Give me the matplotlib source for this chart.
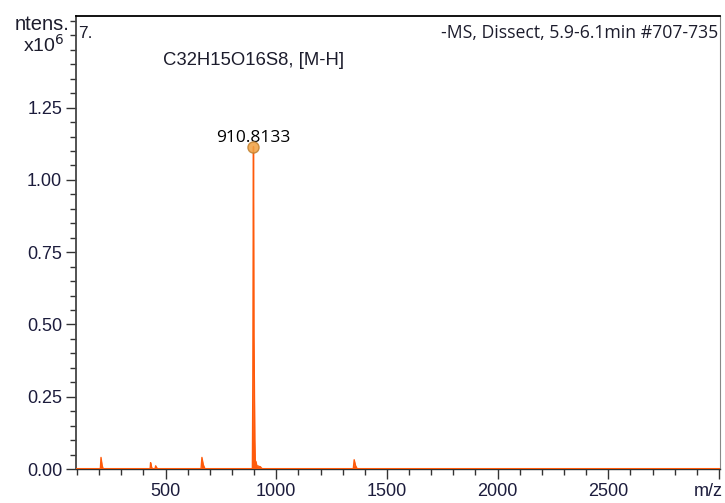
import matplotlib
matplotlib.use("Agg")
import matplotlib.pyplot as plt
from matplotlib.ticker import MultipleLocator, FixedLocator

# Spectrum profile (m/z, intensity x10^6)
mz = [95, 205, 208, 213, 218, 430, 432, 436, 440, 452, 455, 460, 465,
      660, 664, 670, 678, 892, 894, 896, 897, 899, 901, 903, 905, 908,
      912, 916, 920, 924, 928, 932, 938, 1348, 1352, 1358, 1366, 3005]
intensity = [0.0, 0.0, 0.040, 0.012, 0.0, 0.0, 0.022, 0.008, 0.0, 0.0, 0.011, 0.004, 0.0,
             0.0, 0.040, 0.015, 0.0, 0.0, 0.30, 0.90, 1.115, 0.46, 0.30, 0.10, 0.028, 0.026,
             0.012, 0.010, 0.010, 0.008, 0.008, 0.004, 0.0, 0.0, 0.032, 0.012, 0.0, 0.0]

peak_mz = 897
peak_int = 1.115
peak_label = "910.8133"

y_major = [0.00, 0.25, 0.50, 0.75, 1.00, 1.25]
y_labels = ["0.00", "0.25", "0.50", "0.75", "1.00", "1.25"]
x_major = [500, 1000, 1500, 2000, 2500, 3000]
x_labels = ["500", "1000", "1500", "2000", "2500", ""]
x_unit = "m/z"

orange = "#ff5a0a"
tickcol = "#1c1c3c"

fig = plt.figure(figsize=(7.25, 5.03), dpi=100)
ax = fig.add_axes([76/725, 34/503, 644/725, 453/503])

ax.fill_between(mz, intensity, 0, color=orange, linewidth=0)
ax.plot(mz, intensity, color=orange, linewidth=1.0)
ax.axhline(0.0, color=orange, linewidth=2.2, zorder=3)
ax.plot([peak_mz], [peak_int], 'o', ms=8, mfc="#f0a040", mec="#c08030",
        alpha=0.85, zorder=5)
ax.text(peak_mz, peak_int + 0.003, peak_label, ha="center", va="bottom",
        fontsize=12.5, family="Open Sans", color="black")

ax.set_xlim(95, 3005)
ax.set_ylim(0, 1.567)

ax.yaxis.set_major_locator(FixedLocator(y_major))
ax.set_yticklabels(y_labels)
ax.yaxis.set_minor_locator(MultipleLocator(0.05))
ax.xaxis.set_major_locator(FixedLocator(x_major))
ax.set_xticklabels(x_labels)
ax.xaxis.set_minor_locator(MultipleLocator(100))

ax.tick_params(axis="both", which="major", direction="out", length=7, width=1,
               color="#333333", labelsize=13, labelcolor=tickcol, pad=3)
ax.tick_params(axis="both", which="minor", direction="out", length=4, width=1,
               color="#333333")
for lab in ax.get_xticklabels() + ax.get_yticklabels():
    lab.set_family("Liberation Sans")

ax.spines["top"].set_color("black")
ax.spines["top"].set_linewidth(1.3)
ax.spines["left"].set_color("#444444")
ax.spines["left"].set_linewidth(1.3)
ax.spines["right"].set_color("#888888")
ax.spines["right"].set_linewidth(0.8)
ax.spines["bottom"].set_color("#333333")
ax.spines["bottom"].set_linewidth(1.0)

fig.text(708/725, 1 - 491/503, x_unit, fontsize=13, family="Liberation Sans",
         ha="center", va="center", color=tickcol)

ax.text(0.004, 0.962, "7.", transform=ax.transAxes, fontsize=12.5,
        family="Liberation Sans", ha="left", va="center", color="#1c1c2c")
ax.text(0.997, 0.962, "-MS, Dissect, 5.9-6.1min #707-735", transform=ax.transAxes,
        fontsize=12.7, family="Open Sans", ha="right", va="center", color="#1c1c2c")
ax.text(0.276, 0.902, "C32H15O16S8, [M-H]", transform=ax.transAxes,
        fontsize=13.3, family="Liberation Sans", ha="center", va="center", color="#1c1c2c")

fig.text(70/725, 1 - 25/503, "ntens.", fontsize=14.5, family="Liberation Sans",
         ha="right", va="center", color="#1c1c2c")
fig.text(64/725, 1 - 45/503, r"x10$^{6}$", fontsize=14, family="Liberation Sans",
         ha="right", va="center", color="#1c1c2c")

fig.savefig("out.png", dpi=100)
